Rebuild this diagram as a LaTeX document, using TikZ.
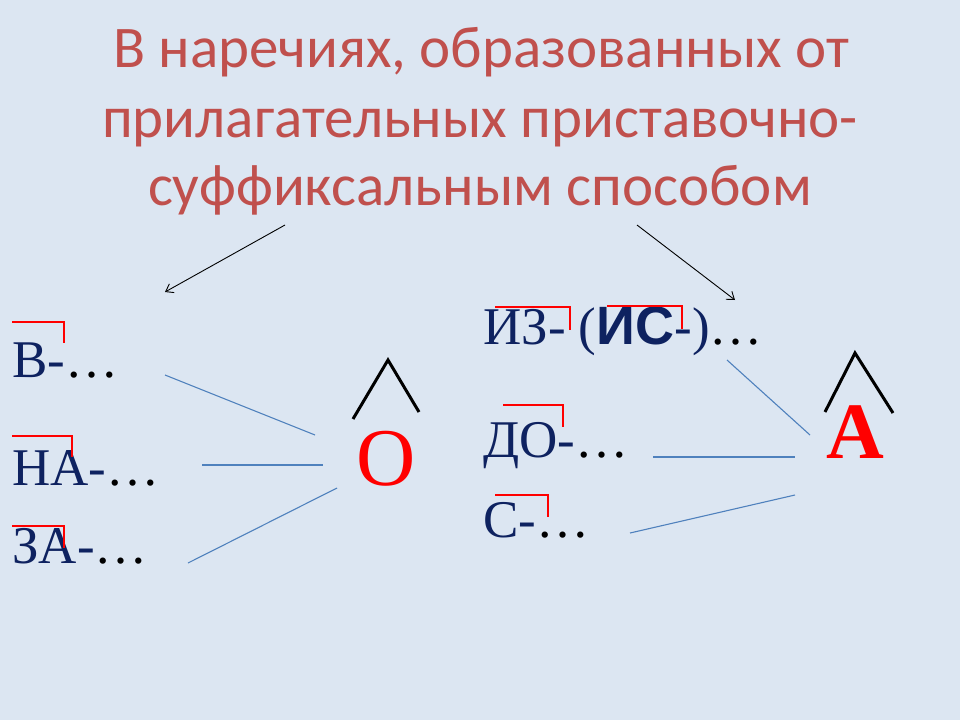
\documentclass[tikz,border=0pt]{standalone}
\usepackage{fontspec}
\setmainfont{Liberation Serif}
\newfontfamily\titlefont{Carlito}
\newfontfamily\boldsans{Liberation Sans}
\usetikzlibrary{arrows.meta}
\definecolor{bgc}{RGB}{220,230,242}
\definecolor{titlec}{RGB}{192,80,77}
\definecolor{navy}{RGB}{14,34,96}
\definecolor{linkc}{RGB}{79,129,189}
\tikzset{
  titletext/.style={font=\titlefont\fontsize{59}{62}\selectfont, text=titlec, inner sep=0pt, anchor=base},
  prefixtext/.style={font=\fontsize{53}{56}\selectfont, text=navy, inner sep=0pt, anchor=base west},
  vowelnode/.style={font=\fontsize{82}{86}\selectfont, text=red, inner sep=0pt, anchor=base},
  redbracket/.style={draw=red, line width=2.8pt},
  linkline/.style={draw=linkc, line width=1.1pt},
  caretline/.style={draw=black, line width=3pt},
  pointerline/.style={draw=black, line width=0.9pt, -{Straight Barb[length=7pt,width=10pt]}},
}
\begin{document}
\begin{tikzpicture}[x=1pt,y=-1pt]
\fill[bgc] (0,0) rectangle (960,720);
\useasboundingbox (0,0) rectangle (960,720);

% title
\node[titletext] (t1) at (481,67) {В наречиях, образованных от};
\node[titletext] (t2) at (480,137) {прилагательных приставочно-};
\node[titletext] (t3) at (480,205) {суффиксальным способом};

\coordinate (a1s) at (285,225);
\coordinate (a1e) at (165,292);
\coordinate (a2s) at (637,225);
\coordinate (a2e) at (735,300);
\draw[pointerline] (a1s) -- (a1e);
\draw[pointerline] (a2s) -- (a2e);

% left prefixes
\node[prefixtext] (v) at (12,377) {В-\textcolor{black}{…}};
\node[prefixtext] (na) at (12,485) {НА-\textcolor{black}{…}};
\node[prefixtext] (za) at (12,563) {ЗА-\textcolor{black}{…}};
\draw[redbracket] (12,322) -- (64,322) -- (64,343);
\draw[redbracket] (12,436) -- (72,436) -- (72,457);
\draw[redbracket] (12,526) -- (64,526) -- (64,548);

% O
\node[vowelnode] (o) at (386,485) {О};
\draw[caretline] (353,419) -- (388,360) -- (419,412);

\coordinate (l1s) at (165,375); \coordinate (l1e) at (315,435);
\coordinate (l2s) at (202,465); \coordinate (l2e) at (323,465);
\coordinate (l3s) at (188,563); \coordinate (l3e) at (337,488);
\draw[linkline] (l1s) -- (l1e);
\draw[linkline] (l2s) -- (l2e);
\draw[linkline] (l3s) -- (l3e);

% right prefixes
\node[prefixtext] (iz) at (483,344) {ИЗ-~(\textcolor{navy}{\boldsans\bfseries\fontsize{54}{56}\selectfont ИС}-)\textcolor{black}{…}};
\node[prefixtext] (do) at (483,457) {ДО-\textcolor{black}{…}};
\node[prefixtext] (s) at (483,537) {С-\textcolor{black}{…}};
\draw[redbracket] (495,307) -- (570,307) -- (570,330);
\draw[redbracket] (607,306) -- (682,306) -- (682,329);
\draw[redbracket] (503,405) -- (563,405) -- (563,427);
\draw[redbracket] (495,495) -- (548,495) -- (548,517);

% A
\node[vowelnode, font=\bfseries\fontsize{80}{84}\selectfont] (a) at (855,458) {А};
\draw[caretline] (825,412) -- (855,353) -- (893,413);

\coordinate (r1s) at (727,360); \coordinate (r1e) at (810,435);
\coordinate (r2s) at (653,457); \coordinate (r2e) at (795,457);
\coordinate (r3s) at (630,533); \coordinate (r3e) at (795,495);
\draw[linkline] (r1s) -- (r1e);
\draw[linkline] (r2s) -- (r2e);
\draw[linkline] (r3s) -- (r3e);
\end{tikzpicture}
\end{document}
